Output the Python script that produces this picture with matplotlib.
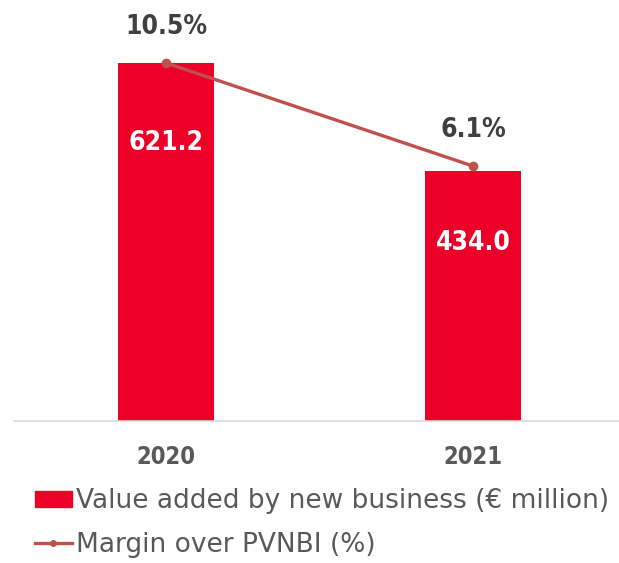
import matplotlib
matplotlib.use("Agg")
import matplotlib.pyplot as plt
from matplotlib.patches import Patch
from matplotlib.lines import Line2D

years = ["2020", "2021"]
value_added = [621.2, 434.0]
margin_pct = [10.5, 6.1]
value_labels = ["621.2", "434.0"]
margin_labels = ["10.5%", "6.1%"]

BAR = "#EC0028"
LINE = "#C0504D"
DARK = "#404040"
GREY = "#595959"
COND = dict(family="DejaVu Sans", stretch="condensed")

fig = plt.figure(figsize=(6.19, 5.63), dpi=100)
ax = fig.add_axes([14/619, 142/563, 605/619, 421/563])
x = list(range(len(years)))
ax.bar(x, value_added, width=0.313, color=BAR, zorder=2)
ax.set_xlim(-0.495, 1.476)
ax.set_ylim(0, 730.5)
for s in ["top", "right", "left"]:
    ax.spines[s].set_visible(False)
ax.spines["bottom"].set_color("#D9D9D9")
ax.spines["bottom"].set_linewidth(1.2)
ax.set_yticks([])
ax.set_xticks(x)
ax.set_xticklabels(years, fontsize=17, color=GREY, fontweight="bold", **COND)
ax.tick_params(axis="x", length=0, pad=17)

offsets = [-57.5, -52]
for xi, v, lab, off in zip(x, value_added, value_labels, offsets):
    ax.annotate(lab, (xi, v), xytext=(0, off), textcoords="offset points",
                ha="center", va="center", color="white", fontsize=19, fontweight="bold", **COND)

ax2 = ax.twinx()
ax2.set_ylim(-4.79, 13.19)
ax2.plot(x, margin_pct, color=LINE, lw=2.4, marker="o", ms=6, zorder=3)
ax2.axis("off")
for xi, m, lab in zip(x, margin_pct, margin_labels):
    ax2.annotate(lab, (xi, m), xytext=(0, 26), textcoords="offset points",
                 ha="center", va="center", color=DARK, fontsize=19, fontweight="bold", **COND)

handles = [Patch(color=BAR), Line2D([0], [0], color=LINE, lw=2.4, marker="o", ms=4)]
labels = ["Value added by new business (€ million)", "Margin over PVNBI (%)"]
leg = fig.legend(handles, labels, loc="upper left", bbox_to_anchor=(35/619, 1 - 488/563),
                 frameon=False, handlelength=1.4, handleheight=0.57, handletextpad=0.15,
                 labelspacing=0.68, borderaxespad=0, borderpad=0,
                 prop=dict(size=19, family="DejaVu Sans"))
for t in leg.get_texts():
    t.set_color(GREY)

fig.savefig("out.png", dpi=100)
